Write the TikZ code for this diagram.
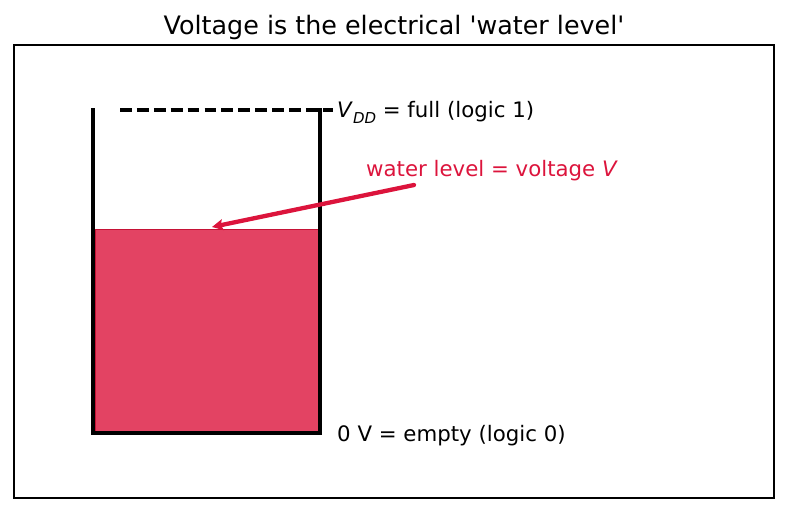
\documentclass[tikz,border=0pt]{standalone}
\usepackage{fontspec}
\setmainfont{DejaVu Sans}
\usetikzlibrary{arrows.meta}
\definecolor{crim}{RGB}{220,20,60}
\definecolor{water}{RGB}{227,67,99}
\tikzset{
  wall/.style={line width=4.6pt, line cap=butt},
  lbl/.style={anchor=west, inner sep=0pt, font=\fontsize{21.3}{24}\selectfont},
}
\begin{document}
\begin{tikzpicture}[x=1pt,y=-1pt]
\useasboundingbox (0,0) rectangle (787,512);
% title
\node[inner sep=0pt, font=\fontsize{25.4}{28}\selectfont] (title) at (394,27.5) {Voltage is the electrical \textquotesingle water level\textquotesingle};
% frame
\node[draw, line width=2pt, minimum width=760pt, minimum height=453pt, inner sep=0pt] (frame) at (394,271.5) {};
% water
\node[fill=water, draw=crim!90!black, line width=0.6pt, minimum width=224pt, minimum height=204pt, inner sep=0pt, anchor=north west] (water) at (95,228.5) {};
% tank
\coordinate (tl) at (93,108);
\coordinate (bl) at (93,433);
\coordinate (br) at (320,433);
\coordinate (tr) at (320,108);
\draw[wall, line join=miter] (tl) -- (bl) -- (br) -- (tr);
% dashed full line
\coordinate (d1) at (120,110);
\coordinate (d2) at (333,110);
\draw[line width=3.2pt, dash pattern=on 11.8pt off 5.1pt] (d1) -- (d2);
% labels
\node[lbl] (vdd) at (337,112.5) {\textit{V}\raisebox{-0.28em}{\fontsize{15}{15}\selectfont\textit{DD}} = full (logic 1)};
\node[lbl] (zero) at (337,435.5) {0 V = empty (logic 0)};
\node[lbl, text=crim] (wl) at (366,170.5) {water level = voltage \textit{V}};
% arrow
\coordinate (as) at (414,185);
\coordinate (at) at (212,227);
\draw[crim, line width=4.3pt, line cap=round, -{Stealth[length=11pt,width=11pt,inset=2pt]}] (as) -- (at);
\end{tikzpicture}
\end{document}
